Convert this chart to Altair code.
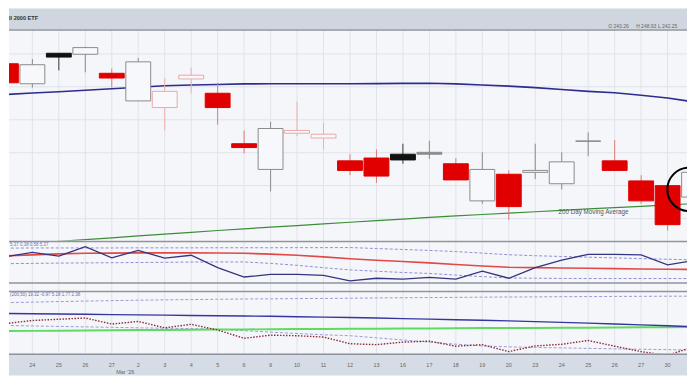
import altair as alt
import pandas as pd

# ---------------- data ----------------
idx = list(range(-1, 26))
day_labels = ["23", "24", "25", "26", "27", "2", "3", "4", "5", "6", "9", "10", "11", "12", "13",
              "16", "17", "18", "19", "20", "23", "24", "25", "26", "27", "30", "31"]

opens = [263.50, 260.46, 265.09, 264.94, 262.05, 257.86, 256.85, 261.19, 259.02, 251.36, 247.46, 252.95, 252.23,
         248.76, 249.19, 249.77, 249.77, 248.32, 242.69, 246.73, 247.02, 245.29, 251.79, 248.76, 245.72, 245.00, 243.26]
highs = [263.93, 264.22, 265.09, 266.10, 262.77, 264.36, 261.33, 262.92, 260.61, 253.38, 254.68, 257.72, 254.54,
         249.77, 250.49, 251.36, 251.79, 249.19, 250.06, 247.31, 251.36, 250.06, 253.09, 251.94, 246.59, 245.14, 248.93]
lows = [260.32, 259.88, 262.49, 262.20, 259.88, 257.86, 253.38, 259.02, 254.25, 249.91, 244.13, 252.51, 250.49,
        246.59, 245.43, 248.32, 249.05, 245.87, 242.25, 239.80, 246.01, 244.42, 249.48, 247.31, 242.25, 238.21, 242.25]
closes = [260.61, 263.35, 264.51, 265.95, 261.33, 263.79, 259.31, 261.76, 256.85, 250.78, 253.67, 253.38, 252.80,
          247.31, 246.45, 248.90, 250.06, 245.87, 247.46, 241.82, 247.31, 248.61, 251.72, 247.31, 242.69, 239.08, 247.02]
styles = ["red", "hollow", "black", "hollow", "red", "hollow", "hollowred", "hollowred", "red", "red", "hollow",
          "hollowred", "hollowred", "red", "red", "black", "doji", "red", "hollow", "red", "hollow", "hollow",
          "doji", "red", "red", "red", "hollow"]

ma50 = [258.84, 259.06, 259.26, 259.47, 259.70, 259.94, 260.17, 260.27, 260.35, 260.44, 260.46, 260.47, 260.47,
        260.46, 260.48, 260.52, 260.53, 260.45, 260.28, 260.10, 259.88, 259.60, 259.31, 259.09, 258.73, 258.29, 257.72]
ma200 = [235.97, 236.26, 236.53, 236.81, 237.08, 237.37, 237.64, 237.92, 238.19, 238.45, 238.70, 238.94, 239.19,
         239.44, 239.68, 239.93, 240.17, 240.42, 240.62, 240.84, 241.04, 241.24, 241.46, 241.66, 241.86, 242.07, 242.27]
price_grid = [240, 245, 250, 255, 260, 265]

# middle indicator panel
osc = [0.75, 1.2, 0.8, 1.8, 0.63, 1.4, 0.6, 0.9, -0.4, -1.37, -1.1, -1.1, -1.2, -1.77, -1.5, -1.6, -1.4, -1.6,
       -0.77, -1.5, -0.4, 0.4, 1.0, 1.0, 0.93, -0.1, 0.35]
sig = [0.84, 0.94, 1.04, 1.1, 1.12, 1.15, 1.15, 1.15, 1.13, 1.1, 1.02, 0.9, 0.73, 0.53, 0.38, 0.24, 0.1, -0.07,
       -0.22, -0.35, -0.39, -0.43, -0.46, -0.5, -0.53, -0.56, -0.58]
band2_up = [1.64, 1.66, 1.66, 1.66, 1.66, 1.67, 1.67, 1.67, 1.68, 1.68, 1.68, 1.69, 1.69, 1.70, 1.60, 1.50, 1.40,
            1.28, 1.12, 0.95, 0.85, 0.77, 0.70, 0.62, 0.55, 0.48, 0.42]
band2_lo = [0.02, 0.05, 0.08, 0.1, 0.12, 0.14, 0.16, 0.19, 0.2, 0.2, 0.05, -0.15, -0.4, -0.63, -0.77, -0.9, -1.0,
            -1.17, -1.33, -1.47, -1.5, -1.52, -1.53, -1.53, -1.53, -1.53, -1.53]

# lower indicator panel
band3_up = [2.04, 2.10, 2.16, 2.21, 2.26, 2.30, 2.34, 2.37, 2.40, 2.43, 2.45, 2.47, 2.49, 2.51, 2.54, 2.56, 2.58,
            2.60, 2.62, 2.64, 2.65, 2.67, 2.68, 2.70, 2.71, 2.72, 2.73]
line3_blue = [0.91, 0.88, 0.85, 0.82, 0.79, 0.76, 0.73, 0.70, 0.67, 0.64, 0.61, 0.57, 0.53, 0.48, 0.43, 0.37, 0.31,
              0.25, 0.19, 0.13, 0.05, -0.03, -0.11, -0.2, -0.29, -0.38, -0.49]
line3_green = [-0.94, -0.92, -0.90, -0.88, -0.86, -0.84, -0.82, -0.80, -0.78, -0.77, -0.75, -0.73, -0.72, -0.70,
               -0.69, -0.67, -0.66, -0.65, -0.63, -0.62, -0.61, -0.59, -0.58, -0.57, -0.55, -0.54, -0.52]
band3_lo = [-0.35, -0.40, -0.45, -0.50, -0.55, -0.60, -0.64, -0.68, -0.75, -0.9, -1.05, -1.2, -1.33, -1.43, -1.65,
            -1.88, -2.1, -2.32, -2.5, -2.6, -2.66, -2.71, -2.76, -2.81, -2.85, -2.89, -2.94]
line3_dot = [-0.15, 0.17, 0.3, 0.43, -0.2, 0.07, -0.6, -0.23, -0.83, -1.7, -1.37, -1.43, -1.57, -2.27, -2.37, -2.1,
             -2.0, -2.53, -2.37, -3.1, -2.5, -2.33, -1.93, -2.53, -3.1, -3.5, -2.55]

df = pd.DataFrame(dict(i=idx, day=day_labels, open=opens, high=highs, low=lows, close=closes, style=styles,
                       ma50=ma50, ma200=ma200, osc=osc, sig=sig, up2=band2_up, lo2=band2_lo,
                       up3=band3_up, blue3=line3_blue, green3=line3_green, lo3=band3_lo, dot3=line3_dot))
grid_df = pd.DataFrame({"i": list(range(0, 25))})
pgrid_df = pd.DataFrame({"p": price_grid})

# ---------------- styling ----------------
W = 680
H_HEAD, H_MAIN, H_P2, H_P3, H_AX = 21, 212, 50, 63, 22
FONT = "Liberation Sans"
GRID = "#e0e3eb"
PANEL_BG = "#f5f6fa"
HEAD_BG = "#cfd6df"
AXIS_BG = "#d6dce5"
BORDER = "#8e949d"

xsc = alt.Scale(domain=[-0.883, 24.733], nice=False, zero=False)
XI = alt.X("i:Q", scale=xsc, axis=None)
one = pd.DataFrame({"k": [0]})


def border(y):
    return alt.Chart(one).mark_rule(color=BORDER, strokeWidth=1.5).encode(
        x=alt.value(0), x2=alt.value(W), y=alt.value(y))


def vgrid(h):
    return alt.Chart(grid_df).mark_rule(color=GRID, strokeWidth=1).encode(
        x=XI, y=alt.value(0), y2=alt.value(h))


def htext(txt, x, y, size, color, align="left", weight="normal"):
    return alt.Chart(one).mark_text(text=txt, align=align, baseline="middle", fontSize=size,
                                    fontWeight=weight, color=color, font=FONT, clip=True).encode(
        x=alt.value(x), y=alt.value(y))


# ---------------- header ----------------
header = alt.layer(
    htext("ll 2000 ETF", 0, 9.6, 5.6, "#333", weight="bold"),
    htext("O 243.26", 601, 18, 5, "#666"),
    htext("H 248.93", 629, 18, 5, "#666"),
    htext("L 242.25", 651, 18, 5, "#666"),
).properties(width=W, height=H_HEAD, view=alt.ViewBackground(fill=HEAD_BG, strokeWidth=0))

# ---------------- main price panel ----------------
ysc = alt.Scale(domain=[236.62, 268.70], nice=False, zero=False)
base = alt.Chart(df)
sdom = ["red", "hollow", "black", "hollowred", "doji"]

hgrid = alt.Chart(pgrid_df).mark_rule(color=GRID, strokeWidth=1).encode(
    y=alt.Y("p:Q", scale=ysc, axis=None), x=alt.value(0), x2=alt.value(W))
ma50_line = base.mark_line(clip=True, color="#2e2c8c", strokeWidth=1.6).encode(
    x=XI, y=alt.Y("ma50:Q", scale=ysc, axis=None))
ma200_line = base.mark_line(clip=True, color="#3d8d38", strokeWidth=1.2).encode(
    x=XI, y=alt.Y("ma200:Q", scale=ysc, axis=None))
wicks = base.mark_rule(clip=True, strokeWidth=1).encode(
    x=XI, y=alt.Y("high:Q", scale=ysc, axis=None), y2="low:Q",
    color=alt.Color("style:N", scale=alt.Scale(domain=sdom, range=["#e07a7a", "#8c8c8c", "#3a3a3a",
                                                                    "#eeb0b0", "#8c8c8c"]), legend=None))
bodies = base.mark_rect(clip=True, strokeWidth=1).transform_calculate(
    x0="datum.i - 0.47", x1="datum.i + 0.47").encode(
    x=alt.X("x0:Q", scale=xsc, axis=None), x2="x1:Q",
    y=alt.Y("open:Q", scale=ysc, axis=None), y2="close:Q",
    fill=alt.Fill("style:N", scale=alt.Scale(domain=sdom, range=["#e00000", "#f7f8fb", "#111111",
                                                                  "#f9f9fb", "#8c8c8c"]), legend=None),
    stroke=alt.Stroke("style:N", scale=alt.Scale(domain=sdom, range=["#e00000", "#8c8c8c", "#111111",
                                                                      "#e9a9a9", "#8c8c8c"]), legend=None))
ann = alt.Chart(pd.DataFrame({"i": [21.2], "p": [240.95]})).mark_text(
    text="200 Day Moving Average", fontSize=6.3, color="#555", font=FONT, clip=True).encode(
    x=XI, y=alt.Y("p:Q", scale=ysc, axis=None))
ring = alt.Chart(pd.DataFrame({"i": [24.81], "p": [244.42]})).mark_point(
    shape="circle", filled=False, size=1900, color="black", strokeWidth=2, opacity=1, clip=True).encode(
    x=XI, y=alt.Y("p:Q", scale=ysc, axis=None))

main = alt.layer(vgrid(H_MAIN), hgrid, ma200_line, ma50_line, wicks, bodies, ann, ring, border(0.5)).properties(
    width=W, height=H_MAIN, view=alt.ViewBackground(fill=PANEL_BG, strokeWidth=0))

# ---------------- middle indicator panel ----------------
y2sc = alt.Scale(domain=[-2.8, 2.4], nice=False, zero=False)


def line2(field, color, width, dash=None):
    kw = dict(clip=True, color=color, strokeWidth=width)
    if dash:
        kw["strokeDash"] = dash
    return base.mark_line(**kw).encode(x=XI, y=alt.Y(f"{field}:Q", scale=y2sc, axis=None))


p2 = alt.layer(vgrid(H_P2), line2("up2", "#8f8fd6", 1, [3, 2]), line2("lo2", "#8f8fd6", 1, [3, 2]),
               line2("sig", "#e24848", 1.6), line2("osc", "#35357e", 1.3),
               htext("5.37  0.38  0.58  5.37", 1, 4, 4.5, "#7070a8"),
               border(0.75), border(42.3)).properties(
    width=W, height=H_P2, view=alt.ViewBackground(fill=PANEL_BG, strokeWidth=0))

# ---------------- lower indicator panel ----------------
y3sc = alt.Scale(domain=[-3.3, 3.3], nice=False, zero=False)


def line3(field, color, width, dash=None):
    kw = dict(clip=True, color=color, strokeWidth=width)
    if dash:
        kw["strokeDash"] = dash
    return base.mark_line(**kw).encode(x=XI, y=alt.Y(f"{field}:Q", scale=y3sc, axis=None))


p3 = alt.layer(vgrid(H_P3), line3("up3", "#9a9ad8", 1, [3, 2]), line3("lo3", "#9a9ad8", 1, [3, 2]),
               line3("green3", "#5fdc5f", 2), line3("blue3", "#3535a0", 1.4),
               line3("dot3", "#8b2a3a", 1.4, [1.5, 1.5]),
               htext("(200,50) 19.32 -0.97 5.18 1.77 2.38", 1, 4, 4.5, "#6a6aa8"),
               border(0.75)).properties(
    width=W, height=H_P3, view=alt.ViewBackground(fill=PANEL_BG, strokeWidth=0))

# ---------------- date axis band ----------------
ticks_text = base.transform_filter("datum.i >= 0 && datum.i <= 24").mark_text(
    fontSize=5.5, color="#666", font=FONT, baseline="middle", clip=True).encode(
    x=XI, y=alt.value(11.5), text="day:N")
month = alt.Chart(pd.DataFrame({"i": [3.51]})).mark_text(
    text="Mar '26", fontSize=5.5, color="#666", font=FONT, baseline="middle").encode(
    x=XI, y=alt.value(18.2))
axis_panel = alt.layer(ticks_text, month, border(0.75)).properties(
    width=W, height=H_AX, view=alt.ViewBackground(fill=AXIS_BG, strokeWidth=0))

chart = alt.vconcat(header, main, p2, p3, axis_panel, spacing=0, bounds="flush").properties(
    padding={"left": 0, "top": 0, "right": 0, "bottom": 0}, background="white"
).configure(padding=0).configure_view(strokeWidth=0)

chart.save("out.html", embed_options={"renderer": "svg", "actions": False})
